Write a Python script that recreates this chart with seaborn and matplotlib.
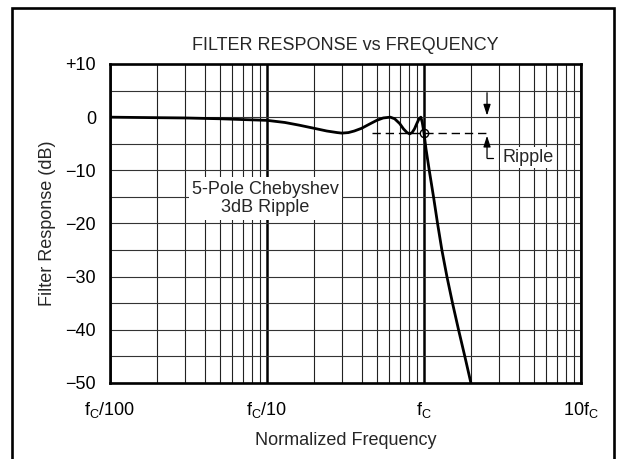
import numpy as np
import pandas as pd
import seaborn as sns
import matplotlib.pyplot as plt
from matplotlib.patches import Rectangle
from matplotlib.ticker import FixedLocator, NullFormatter

# Datos (frecuencia normalizada f/fc, respuesta en dB)
frecuencia = [0.01, 0.02, 0.03, 0.05, 0.07, 0.10, 0.13, 0.16, 0.20, 0.24,
              0.28, 0.30, 0.33, 0.36, 0.40, 0.45, 0.50, 0.55, 0.61, 0.65,
              0.70, 0.74, 0.78, 0.81, 0.84, 0.87, 0.90, 0.93, 0.955, 0.975,
              1.00, 1.03, 1.08, 1.15, 1.22, 1.30, 1.40, 1.52, 1.66, 1.82, 1.99]
respuesta_db = [0.0, -0.1, -0.15, -0.3, -0.45, -0.6, -1.0, -1.5, -2.1, -2.6,
                -2.9, -3.0, -2.9, -2.6, -2.1, -1.3, -0.6, -0.15, 0.0, -0.3,
                -1.2, -2.2, -2.9, -3.15, -2.9, -2.2, -1.2, -0.3, 0.0, -1.0,
                -3.0, -6.0, -10.0, -15.0, -20.0, -25.0, -30.0, -35.0, -40.0, -45.0, -50.0]

ticks_x = [0.01, 0.1, 1, 10]
etiquetas_x = [r"f$_\mathregular{C}$/100", r"f$_\mathregular{C}$/10",
               r"f$_\mathregular{C}$", r"10f$_\mathregular{C}$"]
ticks_y = [10, 0, -10, -20, -30, -40, -50]
etiquetas_y = ["+10", "0", "\u221210", "\u221220", "\u221230", "\u221240", "\u221250"]

df = pd.DataFrame({"f": frecuencia, "dB": respuesta_db})

# Estilo
sns.set_theme(style="white")
plt.rcParams["font.family"] = ["Liberation Sans", "DejaVu Sans"]
plt.rcParams["mathtext.fontset"] = "custom"
plt.rcParams["mathtext.rm"] = "Liberation Sans"
plt.rcParams["mathtext.it"] = "Liberation Sans"
fs = 13

fig = plt.figure(figsize=(6.18, 4.59), dpi=100)
ax = fig.add_axes([110 / 618, 1 - 383 / 459, 471 / 618, 319 / 459])

# Curva
sns.lineplot(data=df, x="f", y="dB", ax=ax, color="black", linewidth=2.0, sort=False)

ax.set_xscale("log")
ax.set_xlim(0.01, 10)
ax.set_ylim(-50, 10)

# Rejilla
menores = [m * 10.0 ** e for e in (-2, -1, 0) for m in range(2, 10)]
ax.xaxis.set_major_locator(FixedLocator(ticks_x))
ax.xaxis.set_minor_locator(FixedLocator(menores))
ax.xaxis.set_minor_formatter(NullFormatter())
ax.set_xticklabels(etiquetas_x)
ax.set_yticks(ticks_y)
ax.set_yticklabels(etiquetas_y)
ax.yaxis.set_minor_locator(FixedLocator(list(range(-45, 10, 10))))
ax.set_axisbelow(True)
ax.grid(which="major", axis="x", color="black", linewidth=1.8)
ax.grid(which="minor", axis="x", color="#222222", linewidth=0.8)
ax.grid(which="both", axis="y", color="#333333", linewidth=0.8)
ax.tick_params(which="both", length=0, labelsize=fs, colors="black")
ax.tick_params(axis="y", pad=10)
ax.tick_params(axis="x", pad=12)

for s in ax.spines.values():
    s.set_color("black")
    s.set_linewidth(1.9)

ax.set_title("FILTER RESPONSE vs FREQUENCY", fontsize=fs, pad=10)
ax.set_xlabel("Normalized Frequency", fontsize=fs, labelpad=9)
ax.set_ylabel("Filter Response (dB)", fontsize=fs, labelpad=7)

# Nivel de ripple (-3 dB)
ax.plot([0.467, 2.55], [-3, -3], color="black", linewidth=1.0,
        linestyle=(0, (6, 3.5)), zorder=2)
ax.plot([1.0], [-3.0], marker="o", markersize=6, markerfacecolor="none",
        markeredgecolor="black", markeredgewidth=1.0, zorder=4)

flecha = dict(arrowstyle="-|>,head_length=0.55,head_width=0.18", color="black", lw=0.9,
              shrinkA=0, shrinkB=0)
ax.annotate("", xy=(2.52, 0.3), xytext=(2.52, 4.6), arrowprops=flecha)
ax.annotate("", xy=(2.52, -3.5), xytext=(2.52, -7.7), arrowprops=flecha)
ax.plot([2.52, 2.75], [-7.7, -7.7], color="black", linewidth=0.9)
ax.text(3.15, -7.6, "Ripple", fontsize=fs, ha="left", va="center",
        bbox=dict(facecolor="white", edgecolor="none", pad=1.5))

ax.text(0.098, -15.3, "5-Pole Chebyshev\n3dB Ripple", fontsize=fs, ha="center",
        va="center", linespacing=1.1,
        bbox=dict(facecolor="white", edgecolor="none", pad=2.5))

# Marco exterior
fig.patches.append(Rectangle((12 / 618, -0.05), 602 / 618, 1.05 - 8 / 459,
                             transform=fig.transFigure, fill=False,
                             edgecolor="black", linewidth=1.9))

plt.savefig("out.png", dpi=100)
